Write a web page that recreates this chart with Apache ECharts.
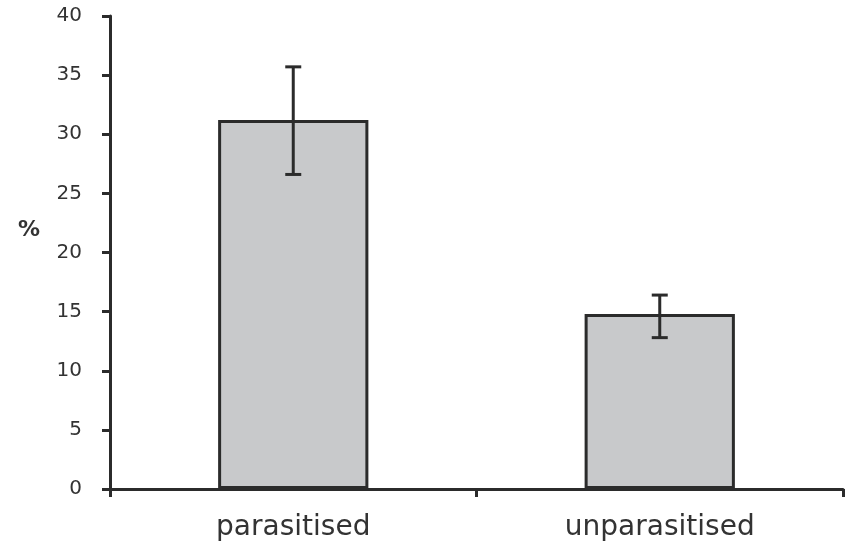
<!DOCTYPE html>
<html>
<head>
<meta charset="utf-8">
<script src="https://cdn.jsdelivr.net/npm/echarts@6/dist/echarts.min.js"></script>
<style>html,body{margin:0;padding:0;background:#fff}#c{width:849px;height:552px}</style>
</head>
<body>
<div id="c"></div>
<script>
var categories = ['parasitised', 'unparasitised'];
var means = [31.2, 14.8];
var errLow = [26.6, 12.8];
var errHigh = [35.7, 16.4];
var yTicks = [0, 5, 10, 15, 20, 25, 30, 35, 40];

var chart = echarts.init(document.getElementById('c'));
var dark = '#2b2b2b';
chart.setOption({
  animation: false,
  grid: { left: 110, right: 6, top: 16, bottom: 63 },
  graphic: [{
    type: 'text', left: 18, top: 219,
    style: { text: '%', font: 'bold 22px "DejaVu Sans"', fill: '#333' }
  }],
  xAxis: {
    type: 'category',
    data: categories,
    axisLine: { lineStyle: { color: dark, width: 3 } },
    axisTick: { show: true, length: 8, lineStyle: { color: dark, width: 3 } },
    axisLabel: { margin: 25, fontFamily: 'DejaVu Sans', fontSize: 28, color: '#333' }
  },
  yAxis: {
    type: 'value',
    min: yTicks[0], max: yTicks[yTicks.length - 1], interval: 5,
    splitLine: { show: false },
    axisLine: { show: true, lineStyle: { color: dark, width: 3 } },
    axisTick: { show: true, length: 8, lineStyle: { color: dark, width: 3 } },
    axisLabel: { margin: 28, fontFamily: 'DejaVu Sans', fontSize: 20, color: '#333' }
  },
  series: [{
    type: 'bar',
    data: means,
    barWidth: '41%',
    itemStyle: { color: '#c8c9cb', borderColor: dark, borderWidth: 3 }
  }, {
    type: 'custom',
    data: categories.map(function (c, i) { return [i, errLow[i], errHigh[i]]; }),
    renderItem: function (params, api) {
      var lo = api.coord([api.value(0), api.value(1)]);
      var hi = api.coord([api.value(0), api.value(2)]);
      var w = 8;
      var st = { stroke: dark, lineWidth: 3 };
      return {
        type: 'group',
        children: [
          { type: 'line', shape: { x1: lo[0], y1: lo[1], x2: hi[0], y2: hi[1] }, style: st },
          { type: 'line', shape: { x1: lo[0] - w, y1: lo[1], x2: lo[0] + w, y2: lo[1] }, style: st },
          { type: 'line', shape: { x1: hi[0] - w, y1: hi[1], x2: hi[0] + w, y2: hi[1] }, style: st }
        ]
      };
    },
    z: 10
  }]
});
</script>
</body>
</html>
